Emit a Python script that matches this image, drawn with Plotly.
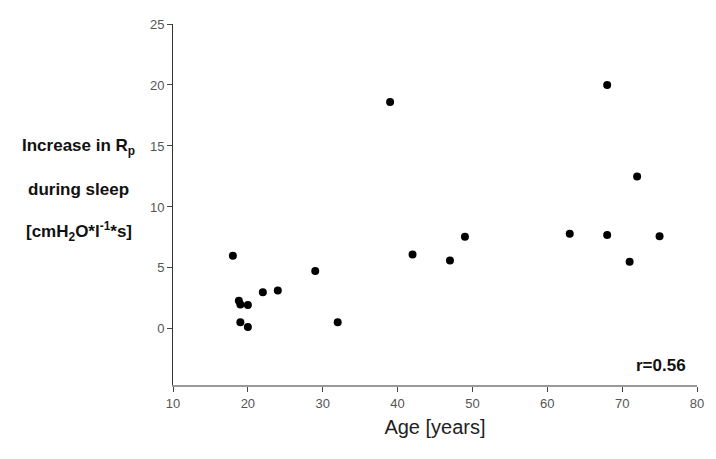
import plotly.graph_objects as go

# Age [years] and increase in Rp during sleep
age = [18, 18.8, 19, 20, 19, 20, 22, 24, 29, 32, 39, 42, 47, 49, 63, 68, 68, 71, 72, 75]
rp_increase = [6.0, 2.3, 2.0, 1.95, 0.55, 0.15, 3.0, 3.15, 4.75, 0.55, 18.6, 6.1, 5.6, 7.55,
               7.8, 20.0, 7.7, 5.5, 12.5, 7.6]

x_ticks = [10, 20, 30, 40, 50, 60, 70, 80]
y_ticks = [0, 5, 10, 15, 20, 25]

fig = go.Figure()
fig.add_trace(go.Scatter(
    x=age, y=rp_increase, mode="markers",
    marker=dict(color="black", size=8),
    showlegend=False,
))

axis_font = dict(family="Liberation Sans, Arial", size=13, color="#555555")

# page body has an 8px margin, so the figure is a bit smaller than the window
fig.update_layout(
    width=708, height=451,
    margin=dict(l=165, r=19, t=9, b=74),
    plot_bgcolor="white", paper_bgcolor="white",
    xaxis=dict(
        range=[10, 80], tickvals=x_ticks, showgrid=False, zeroline=False,
        showline=True, linecolor="#999999", linewidth=2,
        ticks="outside", ticklen=5, tickcolor="#444444",
        tickfont=axis_font,
        title=dict(text="Age [years]", font=dict(family="Liberation Sans, Arial", size=20, color="#222222"), standoff=10),
    ),
    yaxis=dict(
        range=[-4.6, 25], tickvals=y_ticks, showgrid=False, zeroline=False,
        showline=True, linecolor="#333333", linewidth=1,
        ticks="outside", ticklen=5, tickcolor="#444444",
        tickfont=axis_font,
    ),
)

title_font = dict(family="Liberation Sans, Arial", size=17, color="#111111")
ylabel_lines = [
    "<b>Increase in R<sub>p</sub></b>",
    "<b>during sleep</b>",
    "<b>[cmH<sub>2</sub>O*l<sup>-1</sup>*s]</b>",
]
for i, line in enumerate(ylabel_lines):
    fig.add_annotation(
        text=line, xref="paper", yref="paper",
        x=-0.18, y=0.658 - i * 0.116, xanchor="center", yanchor="middle",
        showarrow=False, font=title_font,
    )

fig.add_annotation(
    text="<b>r=0.56</b>", xref="paper", yref="paper",
    x=0.983, y=0.055, xanchor="right", yanchor="middle",
    showarrow=False, font=dict(family="Liberation Sans, Arial", size=17, color="#111111"),
)

fig.write_html("out.html")
